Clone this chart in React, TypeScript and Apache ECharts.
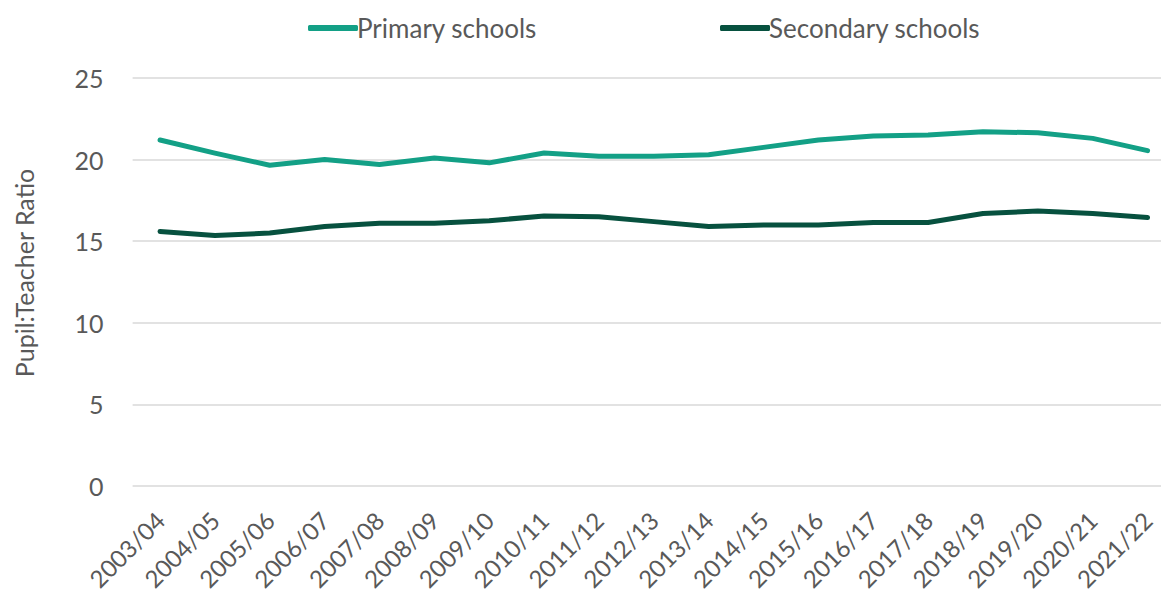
import React, { useEffect, useRef } from "react";
import * as echarts from "echarts";

const categories = [
  "2003/04", "2004/05", "2005/06", "2006/07", "2007/08", "2008/09", "2009/10",
  "2010/11", "2011/12", "2012/13", "2013/14", "2014/15", "2015/16", "2016/17",
  "2017/18", "2018/19", "2019/20", "2020/21", "2021/22",
];

const primarySchools = [
  21.2, 20.4, 19.65, 20.0, 19.7, 20.1, 19.8, 20.4, 20.2, 20.2, 20.3, 20.75,
  21.2, 21.45, 21.5, 21.7, 21.65, 21.3, 20.55,
];

const secondarySchools = [
  15.6, 15.35, 15.5, 15.9, 16.1, 16.1, 16.25, 16.55, 16.5, 16.2, 15.9, 16.0,
  16.0, 16.15, 16.15, 16.7, 16.85, 16.7, 16.45,
];

const yTicks = { min: 0, max: 25, interval: 5 };

const FONT = "Lato";
const TEXT = "#595959";

export default function App() {
  const ref = useRef<HTMLDivElement>(null);
  useEffect(() => {
    if (!ref.current) return;
    const chart = echarts.init(ref.current, undefined, { renderer: "svg" });
    chart.setOption({
      animation: false,
      textStyle: { fontFamily: FONT },
      legend: [
        {
          data: ["Primary schools"],
          left: 303,
          top: 10,
          icon: "roundRect",
          itemWidth: 50,
          itemHeight: 6,
          textStyle: { fontSize: 26, color: TEXT, fontFamily: FONT, padding: [0, 0, 0, -6] },
        },
        {
          data: ["Secondary schools"],
          left: 715,
          top: 10,
          icon: "roundRect",
          itemWidth: 50,
          itemHeight: 6,
          textStyle: { fontSize: 26, color: TEXT, fontFamily: FONT, padding: [0, 0, 0, -6] },
        },
      ],
      grid: { left: 132.6, right: 0, top: 78, bottom: 111, containLabel: false },
      xAxis: {
        type: "category",
        data: categories,
        boundaryGap: true,
        axisLine: { show: false },
        axisTick: { show: false },
        axisLabel: {
          rotate: 45,
          interval: 0,
          fontSize: 24,
          color: TEXT,
          fontFamily: FONT,
          margin: 30,
        },
      },
      yAxis: {
        type: "value",
        min: yTicks.min,
        max: yTicks.max,
        interval: yTicks.interval,
        name: "Pupil:Teacher Ratio",
        nameLocation: "middle",
        nameGap: 96,
        nameTextStyle: { fontSize: 25, color: TEXT, fontFamily: FONT, padding: [0, 0, 0, 18] },
        axisLine: { show: false },
        axisTick: { show: false },
        axisLabel: { fontSize: 25, color: TEXT, fontFamily: FONT, margin: 29 },
        splitLine: { lineStyle: { color: "#d9d9d9", width: 1.5 } },
      },
      series: [
        {
          name: "Primary schools",
          type: "line",
          data: primarySchools,
          symbol: "none",
          lineStyle: { width: 5, color: "#13a086", cap: "round", join: "round" },
          itemStyle: { color: "#13a086" },
        },
        {
          name: "Secondary schools",
          type: "line",
          data: secondarySchools,
          symbol: "none",
          lineStyle: { width: 5, color: "#07513f", cap: "round", join: "round" },
          itemStyle: { color: "#07513f" },
        },
      ],
    });
    return () => chart.dispose();
  }, []);
  return (
    <div
      style={{ position: "absolute", left: 0, top: 0, width: 1161, height: 597, overflow: "hidden" }}
    >
      <div ref={ref} style={{ width: 1175, height: 597 }} />
    </div>
  );
}
